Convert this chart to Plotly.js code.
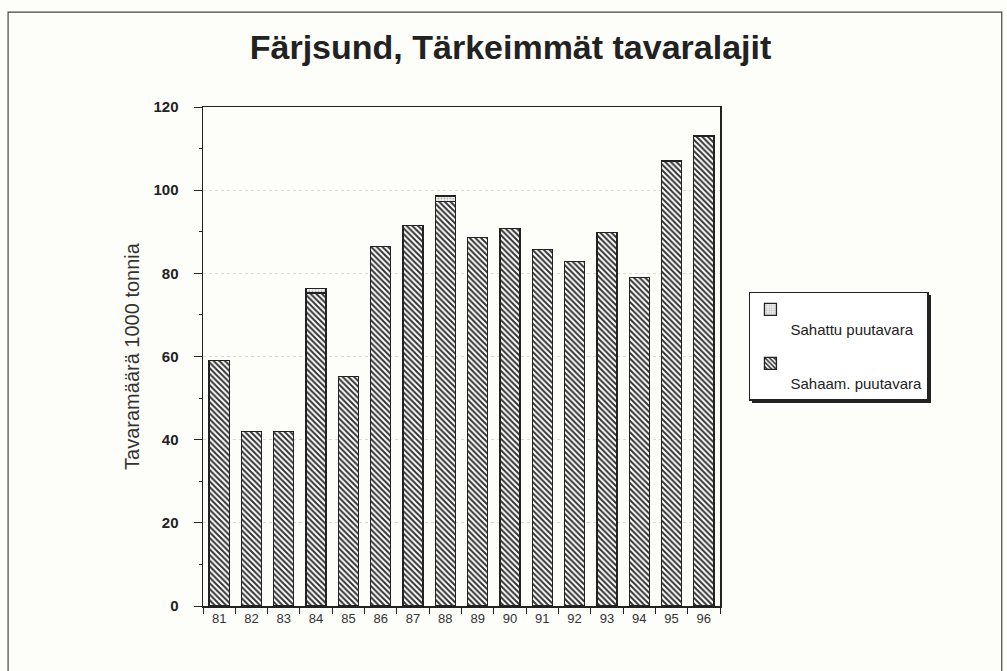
<!DOCTYPE html>
<html><head><meta charset="utf-8">
<script src="https://cdn.plot.ly/plotly-3.0.1.min.js"></script>
<style>
html,body{margin:0;padding:0;background:#fdfdf9;}
#chart{width:1007px;height:671px;}
</style></head>
<body><div id="chart"></div>
<script>
const years = ["81","82","83","84","85","86","87","88","89","90","91","92","93","94","95","96"];
const sahaam = [59, 42, 42, 75.3, 55.2, 86.4, 91.5, 97.2, 88.6, 90.7, 85.7, 82.8, 89.9, 79.0, 107.0, 113.0];
const sahattu = [0, 0, 0, 1.0, 0, 0, 0, 1.4, 0, 0, 0, 0, 0, 0, 0, 0];
const seriesNames = ["Sahaam. puutavara", "Sahattu puutavara"];
const titleText = "Färjsund, Tärkeimmät tavaralajit";
const yTitle = "Tavaramäärä 1000 tonnia";

const traces = [
  {type:"bar", name:"<br>" + seriesNames[0], x:years, y:sahaam, legendgroup:"b", legendrank:2,
   marker:{color:"#ffffff", line:{color:"#222", width:1.3},
     pattern:{shape:"\\", fgcolor:"#333", bgcolor:"#ffffff", size:4, solidity:0.5}}},
  {type:"bar", name:"<br>" + seriesNames[1], x:years, y:sahattu, legendgroup:"a", legendrank:1,
   marker:{color:"#f0f0f0", line:{color:"#222", width:1.3},
     pattern:{shape:".", fgcolor:"#b0b0b0", bgcolor:"#f2f2f2", size:3, solidity:0.3}}}
];

const layout = {
  width:1007, height:671,
  paper_bgcolor:"#fdfdf9", plot_bgcolor:"#fdfdf9",
  barmode:"stack", bargap:0.38,
  margin:{l:203, r:287, t:107, b:65},
  font:{family:"Liberation Sans, Arial, sans-serif", color:"#222"},
  title:{text:titleText, x:0.507, xanchor:"center", y:0.93, yanchor:"middle",
    font:{family:"Liberation Sans, Arial", size:34, color:"#222", weight:"bold"}},
  xaxis:{type:"category", showline:true, linecolor:"#222", linewidth:1.5, mirror:true,
    ticks:"outside", tickson:"boundaries", ticklen:6, tickcolor:"#222",
    tickfont:{size:13, color:"#333"}, showgrid:false},
  yaxis:{range:[0,120], dtick:20, showline:true, linecolor:"#222", linewidth:1.5, mirror:true,
    ticks:"outside", ticklen:8, tickcolor:"#222", ticklabelstandoff:12,
    tickfont:{size:15, color:"#222", weight:"bold"},
    minor:{dtick:10, ticks:"outside", ticklen:3, tickcolor:"#222"},
    showgrid:true, gridcolor:"#dadada", griddash:"dot", gridwidth:1, zeroline:false,
    title:{text:yTitle, standoff:8, font:{size:20, color:"#333"}}},
  legend:{x:1.056, xanchor:"left", y:0.63, yanchor:"top", traceorder:"grouped",
    bgcolor:"#ffffff", bordercolor:"#222", borderwidth:1.5,
    font:{size:15, color:"#222"}, valign:"top", itemwidth:30, tracegroupgap:12},
  shapes:[
    {type:"rect", xref:"paper", yref:"paper", x0:-0.377, x1:1.545, y0:-0.2, y1:1.19,
     line:{color:"#444", width:1.2}, fillcolor:"rgba(0,0,0,0)"},
    {type:"rect", xref:"paper", yref:"paper", x0:1.0619, x1:1.4081, y0:0.4068, y1:0.6232,
     line:{width:0}, fillcolor:"#222"}
  ],
  showlegend:true
};

Plotly.newPlot("chart", traces, layout, {displayModeBar:false, staticPlot:true});
</script></body></html>
